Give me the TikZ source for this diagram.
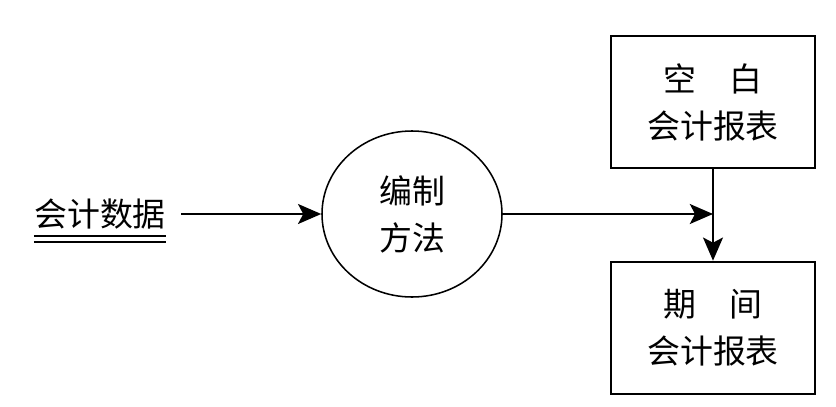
\documentclass[tikz,border=0pt]{standalone}
\usepackage{fontspec}
\newfontfamily\cjkfont{Noto Sans CJK SC}
\usepackage{tikz}
\usetikzlibrary{arrows.meta, positioning, shapes.geometric}

\begin{document}
\begin{tikzpicture}[
  box/.style={draw, line width=1.3pt, minimum width=5.1cm, minimum height=3.3cm, align=center},
  arr/.style={-{Stealth[length=5.8mm, width=5mm, inset=1.3mm]}, line width=1.3pt},
  every node/.style={font=\cjkfont\fontsize{23.4}{33.4}\selectfont}
]
  \useasboundingbox (0,0) rectangle (20.9,10.15);
  \node[inner sep=0pt] (data) at (2.5,4.8) {会计数据};
  \node[ellipse, draw, line width=1.1pt, minimum width=4.5cm, minimum height=4.15cm, align=center] (method) at (10.3,4.8) {编制\\方法};
  \node[box] (blank) at (17.825,7.6) {空　白\\会计报表};
  \node[box] (period) at (17.825,1.96) {期　间\\会计报表};
  \coordinate (join) at (blank.south |- method.east);

  % double underline
  \draw[line width=1.2pt] ([yshift=-0.17cm]data.south west) -- ([yshift=-0.17cm]data.south east);
  \draw[line width=1.2pt] ([yshift=-0.31cm]data.south west) -- ([yshift=-0.31cm]data.south east);

  \draw[arr, shorten <=0.375cm] (data) -- (method);
  \draw[arr] (method) -- (join);
  \draw[arr] (blank) -- (period);
\end{tikzpicture}
\end{document}
